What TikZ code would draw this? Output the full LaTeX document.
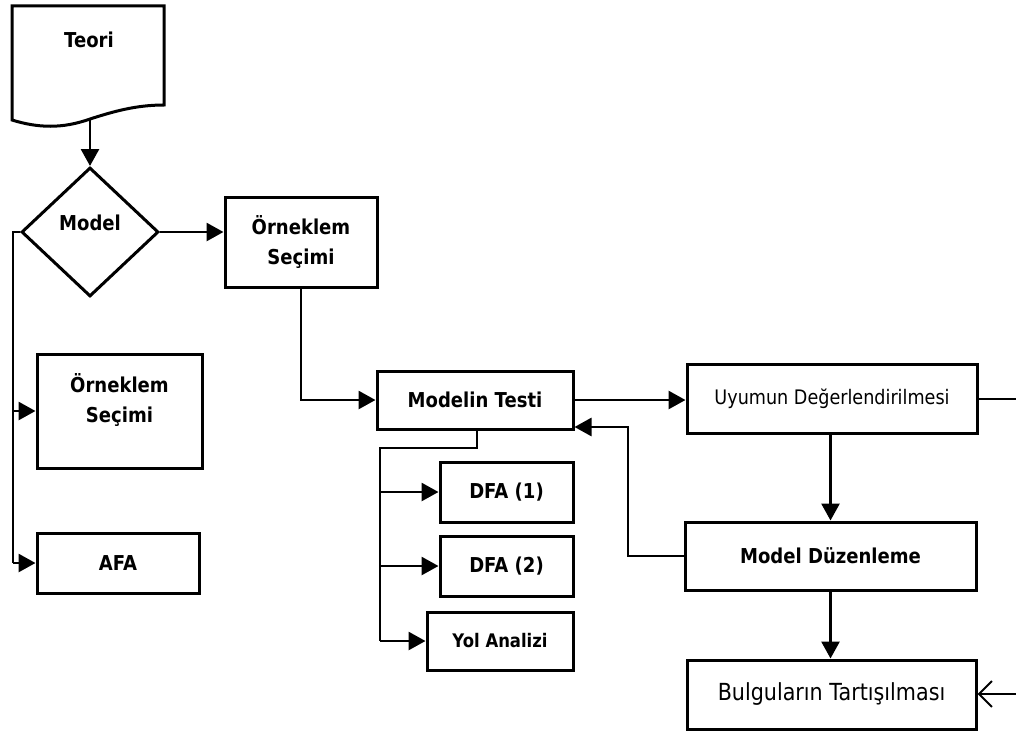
\documentclass[tikz,border=0pt]{standalone}
\usepackage{fontspec}
\setmainfont{DejaVu Sans}[FakeStretch=0.88]
\usetikzlibrary{arrows.meta,shapes.geometric}
\tikzset{
  txt/.style={font=\fontsize{20.5}{30}\selectfont\bfseries, align=center},
  box/.style={draw, line width=3pt, inner sep=0pt, txt},
  rbox/.style={draw, line width=3pt, inner sep=0pt, align=center, font=\fontsize{20}{26}\selectfont},
  conn/.style={line width=2.8pt},
  arr/.style={conn, -{Triangle[length=17pt,width=18pt]}},
  thinconn/.style={line width=2pt},
  openarr/.style={line width=2pt, -{Straight Barb[length=13pt,width=26pt]}},
}
\begin{document}
\begin{tikzpicture}[x=1pt,y=-1pt]
\fill[white] (0,0) rectangle (1016,733);
\useasboundingbox (0,0) rectangle (1016,733);

% Teori (document shape)
\draw[line width=3pt] (12,6) -- (164,6) -- (164,105)
  .. controls (135,105) and (112,112) .. (90,119)
  .. controls (62,129) and (38,128) .. (12,120) -- cycle;
\node[txt] (teori) at (89,40) {Teori};
\coordinate (teoriB) at (90,119);

% Model decision
\node[draw, diamond, line width=3pt, minimum width=137pt, minimum height=129pt, inner sep=0pt,
      label={[txt,yshift=9pt]center:Model}] (model) at (90,232) {};

% boxes
\node[box, minimum width=152pt, minimum height=90pt] (os1) at (301,242) {Örneklem\\Seçimi};
\node[box, minimum width=165pt, minimum height=114pt,
      label={[txt,yshift=11pt]center:Örneklem\\Seçimi}] (os2) at (119.5,411) {};
\node[box, minimum width=162pt, minimum height=60pt] (afa) at (118,563) {AFA};
\node[box, minimum width=196pt, minimum height=58pt] (mt) at (475,400) {Modelin Testi};
\node[box, minimum width=133pt, minimum height=60pt] (dfa1) at (506.5,492) {DFA (1)};
\node[box, minimum width=133pt, minimum height=60pt] (dfa2) at (506.5,566) {DFA (2)};
\node[box, minimum width=146pt, minimum height=58pt, font=\fontsize{18.7}{24}\selectfont\bfseries] (yol) at (500,641) {Yol Analizi};
\node[rbox, minimum width=290pt, minimum height=69pt] (uy) at (832,398.5) {Uyumun Değerlendirilmesi};
\node[box, minimum width=291pt, minimum height=68pt] (md) at (830.5,556) {Model Düzenleme};
\node[rbox, font=\fontsize{23.5}{28}\selectfont, minimum width=289pt, minimum height=69pt] (bt) at (831.5,694.5) {Bulguların Tartışılması};

% helper coordinates
\coordinate (busL) at (13,563);
\coordinate (bus2) at (380,448);
\coordinate (fb) at (628,427);
\coordinate (eR) at (1016,400);
\coordinate (eB) at (1016,694);

% connectors
\draw[arr] (teoriB) -- (model.north);
\draw[arr] (model.east) -- (model.east -| os1.west);
\draw[conn] (model.west) -| (busL);
\draw[arr] (busL |- os2.west) -- (os2.west);
\draw[arr] (busL) -- (afa.west);
\draw[arr] (os1.south) |- (mt.west);
\draw[arr] (mt.east) -- (mt.east -| uy.west);
\draw[conn] (mt.south -| 477,0) |- (bus2) -- (bus2 |- yol.west);
\draw[arr] (bus2 |- dfa1.west) -- (dfa1.west);
\draw[arr] (bus2 |- dfa2.west) -- (dfa2.west);
\draw[arr] (bus2 |- yol.west) -- (yol.west);
\draw[arr] (md.north |- uy.south) -- (md.north);
\draw[arr] (md.south) -- (md.south |- bt.north);
\draw[arr] (md.west) -| (fb) -- (fb -| mt.east);
\draw[thinconn] (uy.east) -- (uy.east -| eR);
\draw[openarr] (eB) -- (eB -| bt.east);
\end{tikzpicture}
\end{document}
